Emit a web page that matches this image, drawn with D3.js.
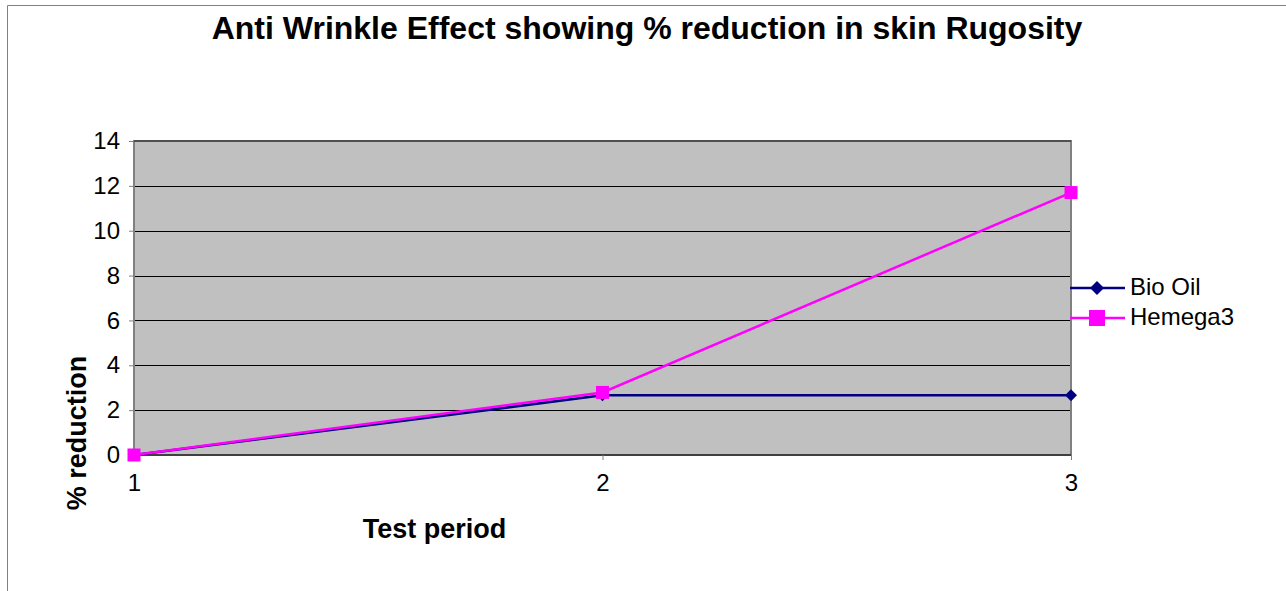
<!DOCTYPE html>
<html>
<head>
<meta charset="utf-8">
<script src="https://cdn.jsdelivr.net/npm/d3@7"></script>
<style>
  body { margin: 0; background: #fff; }
  text { font-family: "Liberation Sans", Arial, sans-serif; }
</style>
</head>
<body>
<div id="chart"></div>
<script>
const periods = [1, 2, 3];
const bioOil = [0, 2.66, 2.66];
const hemega3 = [0, 2.79, 11.7];
const yTicks = [0, 2, 4, 6, 8, 10, 12, 14];

const series = [
  { name: "Bio Oil", values: bioOil, color: "#000080", marker: "diamond" },
  { name: "Hemega3", values: hemega3, color: "#FF00FF", marker: "square" }
];

const width = 1286, height = 591;
const plot = { left: 134, top: 141, right: 1071, bottom: 455 };

const svg = d3.select("#chart").append("svg")
  .attr("width", width)
  .attr("height", height);

// outer chart frame (left and top edges visible)
svg.append("path")
  .attr("d", `M7.5,${height} V5.5 H${width}`)
  .attr("fill", "none")
  .attr("stroke", "#808080")
  .attr("stroke-width", 1);

const x = d3.scalePoint().domain(periods).range([plot.left, plot.right]).padding(0);
const y = d3.scaleLinear().domain([0, 14]).range([plot.bottom, plot.top]);

svg.append("rect")
  .attr("x", plot.left)
  .attr("y", plot.top)
  .attr("width", plot.right - plot.left)
  .attr("height", plot.bottom - plot.top)
  .attr("fill", "#C0C0C0");

// gridlines
svg.append("g")
  .selectAll("line")
  .data(yTicks.filter(d => d > 0 && d < 14))
  .join("line")
  .attr("x1", plot.left).attr("x2", plot.right)
  .attr("y1", d => Math.round(y(d)) + 0.5).attr("y2", d => Math.round(y(d)) + 0.5)
  .attr("stroke", "#000")
  .attr("stroke-width", 1);

// plot border
svg.append("rect")
  .attr("x", plot.left)
  .attr("y", plot.top)
  .attr("width", plot.right - plot.left)
  .attr("height", plot.bottom - plot.top)
  .attr("fill", "none")
  .attr("stroke", "#808080")
  .attr("stroke-width", 2);
svg.append("line")
  .attr("x1", plot.left).attr("x2", plot.right)
  .attr("y1", plot.top).attr("y2", plot.top)
  .attr("stroke", "#404040").attr("stroke-width", 1.5);
svg.append("line")
  .attr("x1", plot.left).attr("x2", plot.right)
  .attr("y1", plot.bottom).attr("y2", plot.bottom)
  .attr("stroke", "#404040").attr("stroke-width", 2);

// y axis
const yAxis = svg.append("g")
  .attr("transform", `translate(${plot.left},0)`)
  .call(d3.axisLeft(y).tickValues(yTicks).tickSize(5).tickPadding(9));
yAxis.select(".domain").remove();
yAxis.selectAll(".tick line").attr("stroke", "#808080");
yAxis.selectAll(".tick text")
  .attr("font-size", 24)
  .attr("fill", "#000")
  .style("font-family", "'Liberation Sans', Arial, sans-serif");

// x axis
const xAxis = svg.append("g")
  .attr("transform", `translate(0,${plot.bottom})`)
  .call(d3.axisBottom(x).tickSize(5).tickPadding(14));
xAxis.select(".domain").remove();
xAxis.selectAll(".tick line").attr("stroke", "#808080");
xAxis.selectAll(".tick text")
  .attr("font-size", 24)
  .attr("fill", "#000")
  .style("font-family", "'Liberation Sans', Arial, sans-serif");

// lines
const line = d3.line()
  .x((d, i) => x(periods[i]))
  .y(d => y(d));

function drawMarker(g, type, cx, cy, color, r) {
  if (type === "diamond") {
    g.append("path")
      .attr("d", `M${cx},${cy - r} L${cx + r},${cy} L${cx},${cy + r} L${cx - r},${cy} Z`)
      .attr("fill", color);
  } else {
    g.append("rect")
      .attr("x", cx - r).attr("y", cy - r)
      .attr("width", 2 * r).attr("height", 2 * r)
      .attr("fill", color);
  }
}

series.forEach(s => {
  svg.append("path")
    .datum(s.values)
    .attr("d", line)
    .attr("fill", "none")
    .attr("stroke", s.color)
    .attr("stroke-width", 2.5);
  const g = svg.append("g");
  s.values.forEach((v, i) => drawMarker(g, s.marker, x(periods[i]), y(v), s.color, s.marker === "diamond" ? 6 : 6.5));
});

// legend
const legend = svg.append("g");
series.forEach((s, i) => {
  const ly = 288 + i * 30;
  legend.append("line")
    .attr("x1", 1070).attr("x2", 1125)
    .attr("y1", ly).attr("y2", ly)
    .attr("stroke", s.color)
    .attr("stroke-width", 2.5);
  drawMarker(legend, s.marker, 1097, ly, s.color, s.marker === "diamond" ? 7 : 8);
  legend.append("text")
    .attr("x", 1130).attr("y", ly + 7)
    .attr("font-size", 24)
    .text(s.name);
});

// titles
svg.append("text")
  .attr("x", 647).attr("y", 39)
  .attr("text-anchor", "middle")
  .attr("font-size", 32)
  .attr("font-weight", "bold")
  .text("Anti Wrinkle Effect showing % reduction in skin Rugosity");

svg.append("text")
  .attr("x", 434.5).attr("y", 538)
  .attr("text-anchor", "middle")
  .attr("font-size", 27)
  .attr("font-weight", "bold")
  .text("Test period");

svg.append("text")
  .attr("transform", "translate(86,433) rotate(-90)")
  .attr("text-anchor", "middle")
  .attr("font-size", 27)
  .attr("font-weight", "bold")
  .text("% reduction");
</script>
</body>
</html>
